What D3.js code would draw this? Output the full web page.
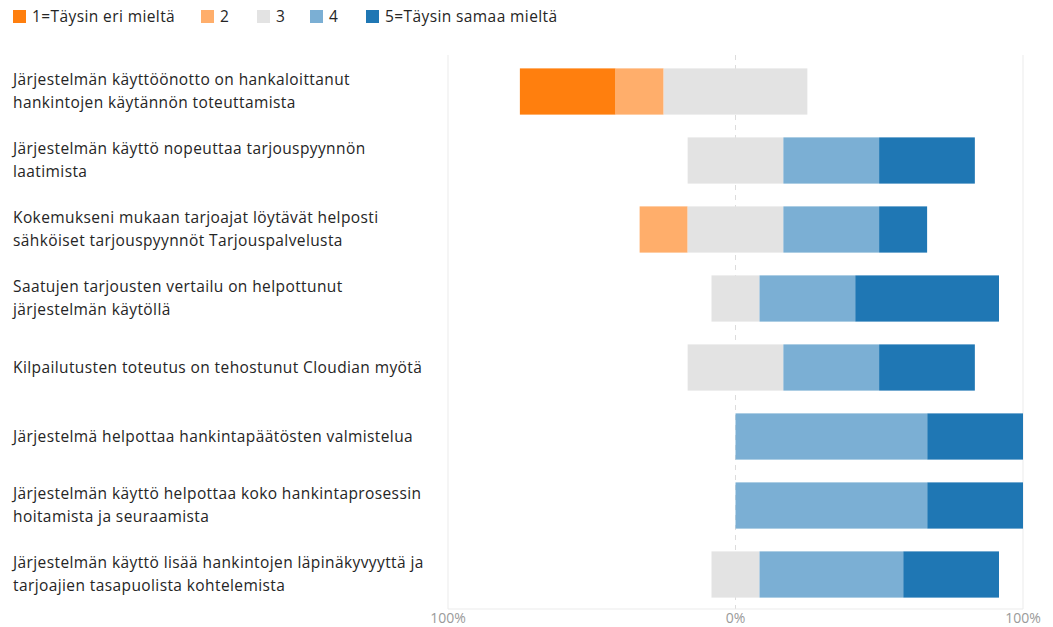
<!DOCTYPE html>
<html>
<head>
<meta charset="utf-8">
<script src="https://cdn.jsdelivr.net/npm/d3@7"></script>
<style>
  body { margin: 0; background: #fff; font-family: "Open Sans", "Noto Sans", sans-serif; }
</style>
</head>
<body>
<div id="chart"></div>
<script>
// questions (top to bottom)
var questions = [
  ["Järjestelmän käyttöönotto on hankaloittanut", "hankintojen käytännön toteuttamista"],
  ["Järjestelmän käyttö nopeuttaa tarjouspyynnön", "laatimista"],
  ["Kokemukseni mukaan tarjoajat löytävät helposti", "sähköiset tarjouspyynnöt Tarjouspalvelusta"],
  ["Saatujen tarjousten vertailu on helpottunut", "järjestelmän käytöllä"],
  ["Kilpailutusten toteutus on tehostunut Cloudian myötä"],
  ["Järjestelmä helpottaa hankintapäätösten valmistelua"],
  ["Järjestelmän käyttö helpottaa koko hankintaprosessin", "hoitamista ja seuraamista"],
  ["Järjestelmän käyttö lisää hankintojen läpinäkyvyyttä ja", "tarjoajien tasapuolista kohtelemista"]
];
var legendLabels = ["1=Täysin eri mieltä", "2", "3", "4", "5=Täysin samaa mieltä"];
var colors = ["#ff7f0e", "#ffae6b", "#e3e3e3", "#7bafd4", "#1f77b4"];
// percentages per answer
var s1 = [33.3, 0, 0, 0, 0, 0, 0, 0];
var s2 = [16.7, 0, 16.7, 0, 0, 0, 0, 0];
var s3 = [50, 33.3, 33.3, 16.7, 33.3, 0, 0, 16.7];
var s4 = [0, 33.3, 33.3, 33.3, 33.3, 66.7, 66.7, 50];
var s5 = [0, 33.3, 16.7, 50, 33.3, 33.3, 33.3, 33.3];
var tickVals = [-100, 0, 100];
var tickLabels = ["100%", "0%", "100%"];

var W = 1053, H = 627;
var svg = d3.select("#chart").append("svg").attr("width", W).attr("height", H);

var x = d3.scaleLinear().domain([-100, 100]).range([448, 1023]);
var y = d3.scaleBand().domain(d3.range(questions.length)).range([57, 609]).paddingInner(0.33).paddingOuter(0.165);

// grid
svg.append("line").attr("x1", x(-100)).attr("x2", x(-100)).attr("y1", 55).attr("y2", 609)
  .attr("stroke", "#ebebeb").attr("stroke-width", 1);
svg.append("line").attr("x1", x(100)).attr("x2", x(100)).attr("y1", 55).attr("y2", 609)
  .attr("stroke", "#ebebeb").attr("stroke-width", 1);
svg.append("line").attr("x1", x(0)).attr("x2", x(0)).attr("y1", 55).attr("y2", 609)
  .attr("stroke", "#dcdcdc").attr("stroke-width", 1).attr("stroke-dasharray", "5,5");
svg.append("line").attr("x1", x(-100)).attr("x2", x(100)).attr("y1", 609).attr("y2", 609)
  .attr("stroke", "#ebebeb").attr("stroke-width", 1);

// bars
var series = [s1, s2, s3, s4, s5];
var rows = questions.map(function(q, i) {
  var start = -(series[0][i] + series[1][i] + series[2][i] / 2);
  var segs = [];
  for (var k = 0; k < 5; k++) {
    var v = series[k][i];
    segs.push({row: i, k: k, x0: start, x1: start + v});
    start += v;
  }
  return segs;
});
svg.append("g").selectAll("rect")
  .data(rows.flat().filter(function(d) { return d.x1 > d.x0; }))
  .enter().append("rect")
  .attr("x", function(d) { return x(d.x0); })
  .attr("width", function(d) { return x(d.x1) - x(d.x0); })
  .attr("y", function(d) { return y(d.row); })
  .attr("height", y.bandwidth())
  .attr("fill", function(d) { return colors[d.k]; });

// question labels
var lab = svg.append("g").selectAll("text").data(questions).enter().append("text")
  .attr("x", 13)
  .attr("y", function(d, i) { return y(i) + y.bandwidth() / 2 - (d.length - 1) * 11.5; })
  .attr("font-size", 15.5).attr("letter-spacing", 0.4).attr("fill", "#252525");
lab.selectAll("tspan").data(function(d) { return d; }).enter().append("tspan")
  .attr("x", 13)
  .attr("dy", function(d, j) { return j == 0 ? "0.35em" : 23; })
  .text(function(d) { return d; });

// x axis tick labels
svg.append("g").selectAll("text").data(tickVals).enter().append("text")
  .attr("x", function(d) { return x(d); })
  .attr("y", 623)
  .attr("text-anchor", "middle")
  .attr("font-size", 14).attr("fill", "#9a9a9a")
  .text(function(d, i) { return tickLabels[i]; });

// legend
var legX = [13, 201, 257, 310, 366];
var leg = svg.append("g").selectAll("g").data(legendLabels).enter().append("g")
  .attr("transform", function(d, i) { return "translate(" + legX[i] + ",10)"; });
leg.append("rect").attr("width", 13).attr("height", 13).attr("fill", function(d, i) { return colors[i]; });
leg.append("text").attr("x", 19).attr("y", 7).attr("dy", "0.35em")
  .attr("font-size", 15.5).attr("letter-spacing", 0.4).attr("fill", "#252525").text(function(d) { return d; });
</script>
</body>
</html>
